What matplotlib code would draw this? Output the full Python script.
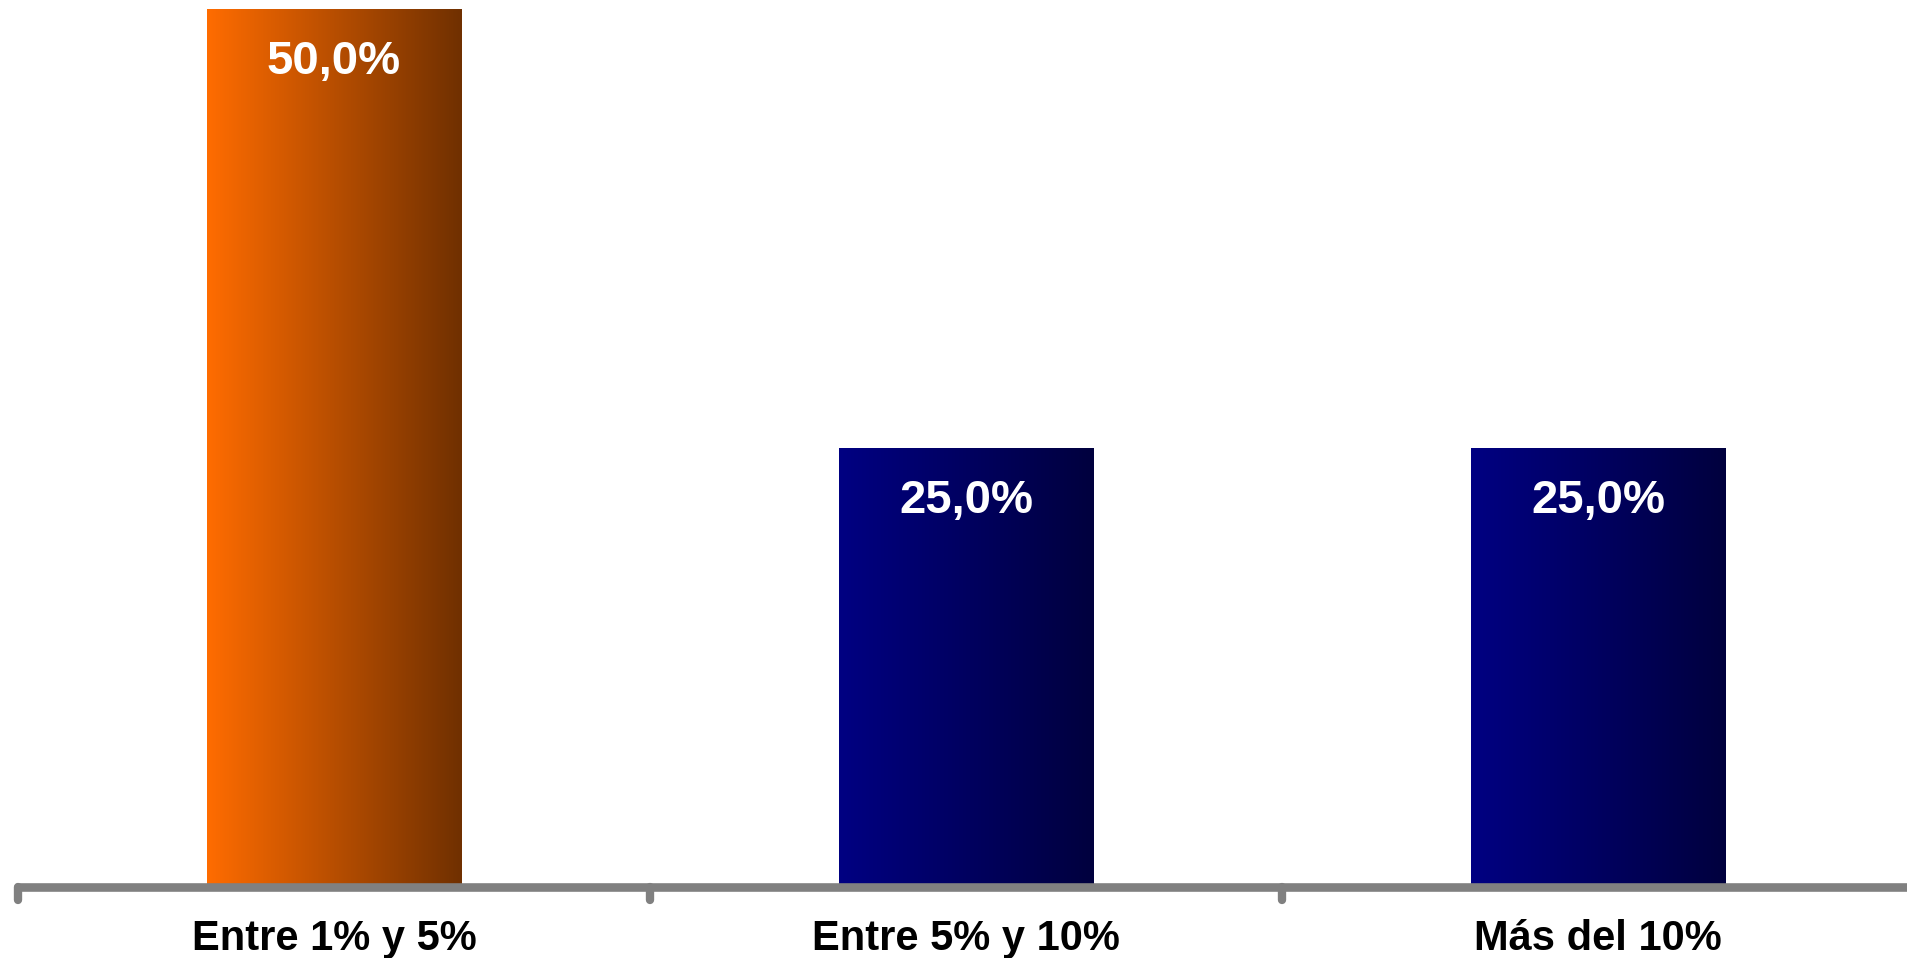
import numpy as np
import matplotlib
matplotlib.use("Agg")
from matplotlib import pyplot as plt
from matplotlib import transforms
from matplotlib.colors import to_rgb
from matplotlib.markers import MarkerStyle

categories = ["Entre 1% y 5%", "Entre 5% y 10%", "Más del 10%"]
values = [50.0, 25.0, 25.0]
labels = ["50,0%", "25,0%", "25,0%"]

# gradient (left colour, right colour) for each bar
orange = ("#FF6C00", "#703000")
navy = ("#000082", "#00003E")
gradients = [orange, navy, navy]

plt.rcParams["font.family"] = ["Liberation Sans", "DejaVu Sans"]

fig = plt.figure(figsize=(19.08, 9.58), dpi=100)
ax = fig.add_axes([18 / 1908, 71 / 958, 1896 / 1908, 878 / 958])

x = np.arange(len(categories))
bars = ax.bar(x, values, width=0.403, color="none", edgecolor="none")

for bar, (c0, c1) in zip(bars, gradients):
    t = np.linspace(0, 1, 256)[None, :, None]
    img = (1 - t) * np.array(to_rgb(c0)) + t * np.array(to_rgb(c1))
    x0, y0 = bar.get_x(), bar.get_y()
    ax.imshow(img, extent=(x0, x0 + bar.get_width(), y0, y0 + bar.get_height()),
              aspect="auto", zorder=1, interpolation="bilinear")

for xi, v, lab in zip(x, values, labels):
    ax.annotate(lab, xy=(xi, v), xytext=(0, -47), textcoords="offset points",
                ha="center", va="baseline", color="white",
                fontsize=34, fontweight="bold", zorder=3)

trans = transforms.blended_transform_factory(ax.transData, fig.transFigure)
for xi, cat in zip(x, categories):
    ax.text(xi, 8 / 958, cat, transform=trans, ha="center", va="baseline",
            fontsize=30, fontweight="bold", color="black")

ax.set_xlim(-0.5, len(categories) - 0.5)
ax.set_ylim(0, 50)

for side in ["top", "left", "right"]:
    ax.spines[side].set_visible(False)
ax.spines["bottom"].set_color("#808080")
ax.spines["bottom"].set_linewidth(6.2)
ax.spines["bottom"].set_capstyle("round")
ax.spines["bottom"].set_zorder(4)

ax.set_yticks([])
ax.set_xticks([])
ax.set_xticks(np.arange(-0.5, len(categories)), minor=True)
ax.tick_params(axis="x", which="minor", direction="out", length=9,
               width=6, color="#808080", labelbottom=False)
for t in ax.xaxis.get_minor_ticks():
    t.tick1line.set_marker(MarkerStyle(3, capstyle="round"))

fig.savefig("out.png", dpi=100)
